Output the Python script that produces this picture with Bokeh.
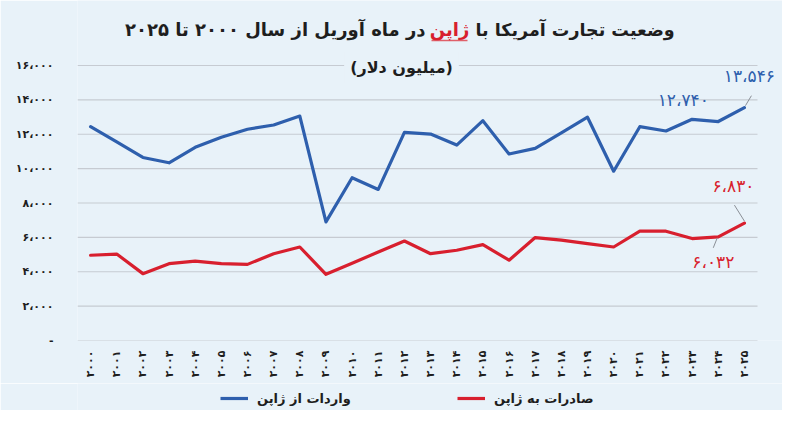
import math
from bokeh.plotting import figure
from bokeh.layouts import column
from bokeh.models import Range1d, FixedTicker, Label, Legend, LegendItem
from bokeh.embed import file_html
from bokeh.resources import INLINE

# ---------------- data ----------------
years = [2000, 2001, 2002, 2003, 2004, 2005, 2006, 2007, 2008, 2009, 2010, 2011, 2012,
         2013, 2014, 2015, 2016, 2017, 2018, 2019, 2020, 2021, 2022, 2023, 2024, 2025]
imports_from_japan = [12440, 11550, 10650, 10340, 11240, 11820, 12290, 12540, 13060, 6900,
                      9470, 8790, 12110, 12010, 11370, 12790, 10850, 11180, 12080, 12990,
                      9850, 12440, 12190, 12870, 12740, 13546]
exports_to_japan = [4960, 5030, 3890, 4470, 4620, 4470, 4430, 5050, 5440, 3850,
                    4490, 5150, 5790, 5050, 5250, 5580, 4670, 5990, 5840, 5640,
                    5440, 6360, 6360, 5930, 6032, 6830]

x_tick_labels = ["۲۰۰۰", "۲۰۰۱", "۲۰۰۲", "۲۰۰۳", "۲۰۰۴", "۲۰۰۵", "۲۰۰۶", "۲۰۰۷", "۲۰۰۸",
                 "۲۰۰۹", "۲۰۱۰", "۲۰۱۱", "۲۰۱۲", "۲۰۱۳", "۲۰۱۴", "۲۰۱۵", "۲۰۱۶", "۲۰۱۷",
                 "۲۰۱۸", "۲۰۱۹", "۲۰۲۰", "۲۰۲۱", "۲۰۲۲", "۲۰۲۳", "۲۰۲۴", "۲۰۲۵"]
y_tick_values = [0, 2000, 4000, 6000, 8000, 10000, 12000, 14000, 16000]
y_tick_labels = ["-", "۲،۰۰۰", "۴،۰۰۰", "۶،۰۰۰", "۸،۰۰۰", "۱۰،۰۰۰", "۱۲،۰۰۰",
                 "۱۴،۰۰۰", "۱۶،۰۰۰"]

series_names = ["واردات از ژاپن", "صادرات به ژاپن"]
title_right = "وضعیت تجارت آمریکا با"
title_red = "ژاپن"
title_left = "در ماه آوریل از سال ۲۰۰۰ تا ۲۰۲۵"
subtitle = "(میلیون دلار)"

# annotated values: (year, value, text, series)
annotations = [
    (2025, 13546, "۱۳،۵۴۶", "imp"),
    (2024, 12740, "۱۲،۷۴۰", "imp"),
    (2025, 6830, "۶،۸۳۰", "exp"),
    (2024, 6032, "۶،۰۳۲", "exp"),
]

# ---------------- style ----------------
BG = "#e8f2f9"
BLUE = "#2e5fad"
RED = "#d81f2e"
GRID = "#c6cbd2"
TXT = "#1e1e1e"
FONT = "DejaVu Sans"

W = 782
LEFT = 77
FW, FH = W - LEFT, 340                       # frame covers the title area too
AXIS_H = 43
LEG_H = 410 - FH - AXIS_H
PX_PER_YEAR = 680 / 26.0                     # data area 1999.5..2025.5 over 680 px
PX_PER_UNIT = 275 / 16000.0                  # 0..16000 over 275 px
x0 = 1999.5
x1 = x0 + FW / PX_PER_YEAR
y0 = 0
y1 = FH / PX_PER_UNIT


def sx(px):   # canvas x pixel -> data x
    return x0 + (px - LEFT) / PX_PER_YEAR


def sy(px):   # canvas y pixel (from top) -> data y
    return (FH - px) / PX_PER_UNIT


p = figure(frame_width=FW, frame_height=FH,
           x_range=Range1d(x0, x1), y_range=Range1d(y0, y1),
           output_backend="svg", toolbar_location=None,
           min_border_left=LEFT, min_border_right=0,
           min_border_top=0, min_border_bottom=AXIS_H,
           background_fill_color=BG, border_fill_color=BG,
           outline_line_color=None)

# axes
p.xaxis.ticker = FixedTicker(ticks=years)
p.xaxis.major_label_overrides = {y: l for y, l in zip(years, x_tick_labels)}
p.xaxis.major_label_orientation = math.pi / 2
p.xaxis.axis_line_color = None
p.xaxis.major_tick_line_color = None
p.xaxis.minor_tick_line_color = None
p.xaxis.major_tick_out = 0
p.xaxis.major_label_standoff = 10
p.xaxis.major_label_text_font = FONT
p.xaxis.major_label_text_font_style = "bold"
p.xaxis.major_label_text_font_size = "11px"
p.xaxis.major_label_text_color = TXT

p.yaxis.ticker = FixedTicker(ticks=y_tick_values)
p.yaxis.major_label_overrides = {v: l for v, l in zip(y_tick_values, y_tick_labels)}
p.yaxis.axis_line_color = None
p.yaxis.major_tick_line_color = None
p.yaxis.minor_tick_line_color = None
p.yaxis.major_tick_out = 0
p.yaxis.major_label_standoff = 24
p.yaxis.major_label_text_font = FONT
p.yaxis.major_label_text_font_style = "bold"
p.yaxis.major_label_text_font_size = "11px"
p.yaxis.major_label_text_color = TXT

p.grid.grid_line_color = None

# horizontal grid lines, only across the data area
p.segment(x0=[x0] * len(y_tick_values), x1=[2025.5] * len(y_tick_values),
          y0=y_tick_values, y1=y_tick_values, line_color=GRID, line_width=1.2)

# lines
r_imp = p.line(years, imports_from_japan, line_color=BLUE, line_width=3.2,
               line_join="round", line_cap="round")
r_exp = p.line(years, exports_to_japan, line_color=RED, line_width=3.2,
               line_join="round", line_cap="round")

# title pieces (screen units relative to frame bottom-left)
ty = FH - 29
TFS = "18px"
p.add_layout(Label(x=449 - LEFT, y=ty, x_units="screen", y_units="screen", text=title_red,
                   text_align="center", text_baseline="middle", text_color=RED,
                   text_font=FONT, text_font_style="bold", text_font_size=TFS))
p.add_layout(Label(x=475 - LEFT, y=ty, x_units="screen", y_units="screen", text=title_right,
                   text_align="left", text_baseline="middle", text_color=TXT,
                   text_font=FONT, text_font_style="bold", text_font_size="17.5px"))
p.add_layout(Label(x=425 - LEFT, y=ty, x_units="screen", y_units="screen", text=title_left,
                   text_align="right", text_baseline="middle", text_color=TXT,
                   text_font=FONT, text_font_style="bold", text_font_size=TFS))
# underline of the red word
p.segment(x0=[sx(431)], x1=[sx(467)], y0=[sy(40)], y1=[sy(40)],
          line_color="#e0606a", line_width=1.5)

p.add_layout(Label(x=401 - LEFT, y=FH - 67, x_units="screen", y_units="screen",
                   text=subtitle, text_align="center", text_baseline="middle",
                   text_color=TXT, text_font=FONT, text_font_style="bold",
                   text_font_size="16px", background_fill_color=BG,
                   background_fill_alpha=1.0, padding=6))

# data labels with leader lines
px_x = 1 / PX_PER_YEAR
px_y = 1 / PX_PER_UNIT
label_offsets = [(5, 32), (-35, 22), (-11, 37), (-5, -25)]
leader_px = [((1, 2), (7, 12)), None, ((0, 2), (-10, 18)), ((-1, -1), (-5, -11))]
lx0, ly0, lx1, ly1 = [], [], [], []
for (yr, val, txt, s), (ox, oy), ld in zip(annotations, label_offsets, leader_px):
    col = BLUE if s == "imp" else RED
    p.add_layout(Label(x=yr, y=val, x_offset=ox, y_offset=oy, text=txt,
                       text_align="center", text_baseline="middle", text_color=col,
                       text_font=FONT, text_font_size="17px"))
    if ld:
        (a, b), (c, d) = ld
        lx0.append(yr + a * px_x); ly0.append(val + b * px_y)
        lx1.append(yr + c * px_x); ly1.append(val + d * px_y)
p.segment(x0=lx0, y0=ly0, x1=lx1, y1=ly1, line_color="#8a8f96", line_width=1)

# legend strip below the chart (its frame is aligned with the chart frame)
lg = figure(width=W, height=LEG_H, x_range=Range1d(0, 1), y_range=Range1d(0, 1),
            output_backend="svg", toolbar_location=None,
            min_border=0, min_border_left=LEFT,
            background_fill_color=BG, border_fill_color=BG,
            outline_line_color=None)
lg.axis.visible = False
lg.grid.grid_line_color = None
g_imp = lg.line(x=[-5, -4], y=[-5, -5], line_color=BLUE, line_width=3.2)
g_exp = lg.line(x=[-5, -4], y=[-5, -5], line_color=RED, line_width=3.2)
legend = Legend(items=[LegendItem(label=series_names[0], renderers=[g_imp]),
                       LegendItem(label=series_names[1], renderers=[g_exp])],
                orientation="horizontal", location=(220 - LEFT, 0), spacing=55,
                padding=0, margin=0, glyph_width=28, glyph_height=24, label_height=24,
                label_width=145, label_standoff=9,
                background_fill_alpha=0, border_line_alpha=0,
                label_text_font=FONT, label_text_font_style="bold",
                label_text_font_size="13px", label_text_color=TXT)
lg.add_layout(legend, "center")

layout = column(p, lg, spacing=0)
open("out.html", "w").write(file_html(layout, INLINE))
